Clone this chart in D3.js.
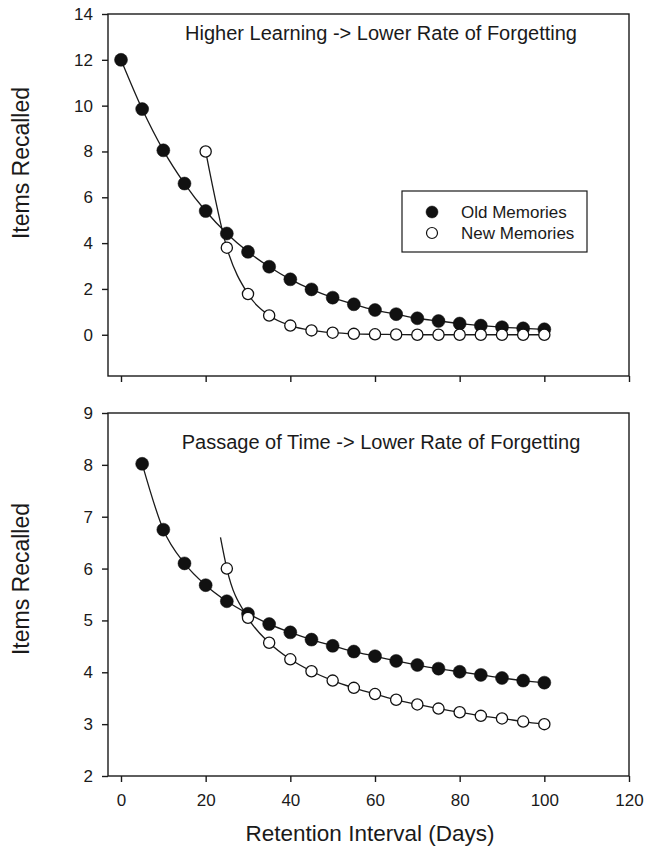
<html>
<head>
<title>Forgetting curves</title>
<script src="https://cdnjs.cloudflare.com/ajax/libs/d3/7.8.5/d3.min.js"></script>
<style>
  body { margin: 0; background: #fff; }
  svg text { font-family: "Liberation Sans", Arial, sans-serif; fill: #1a1a1a; }
  .axis path, .axis line { stroke: #1a1a1a; stroke-width: 1.4; }
  .axis text { font-size: 17px; }
</style>
</head>
<body>
<svg id="chart" width="646" height="847"></svg>
<script>
// retention interval (days)
var daysOld = [0, 5, 10, 15, 20, 25, 30, 35, 40, 45, 50, 55, 60, 65, 70, 75, 80, 85, 90, 95, 100];
var daysNew = [20, 25, 30, 35, 40, 45, 50, 55, 60, 65, 70, 75, 80, 85, 90, 95, 100];
var daysOld2 = [5, 10, 15, 20, 25, 30, 35, 40, 45, 50, 55, 60, 65, 70, 75, 80, 85, 90, 95, 100];
var daysNew2 = [25, 30, 35, 40, 45, 50, 55, 60, 65, 70, 75, 80, 85, 90, 95, 100];

// top panel: higher learning
var oldTop = [12, 9.85, 8.05, 6.6, 5.4, 4.42, 3.62, 2.97, 2.42, 1.98, 1.62, 1.33, 1.08, 0.9, 0.72, 0.6, 0.49, 0.4, 0.33, 0.28, 0.24];
var newTop = [8, 3.8, 1.78, 0.84, 0.4, 0.19, 0.09, 0.04, 0.02, 0.01, 0, 0, 0, 0, 0, 0, 0];

// bottom panel: passage of time
var oldBottom = [8.02, 6.75, 6.1, 5.68, 5.37, 5.13, 4.93, 4.77, 4.63, 4.51, 4.4, 4.31, 4.22, 4.14, 4.07, 4.01, 3.95, 3.89, 3.84, 3.8];
var newBottom = [6.0, 5.05, 4.57, 4.25, 4.02, 3.84, 3.7, 3.58, 3.47, 3.38, 3.3, 3.23, 3.16, 3.11, 3.05, 3.0];
var newBottomFitStart = [23.5, 6.6]; // fitted curve starts a bit left of first point

var xTicks = [0, 20, 40, 60, 80, 100, 120];
var yTicksTop = [0, 2, 4, 6, 8, 10, 12, 14];
var yTicksBottom = [2, 3, 4, 5, 6, 7, 8, 9];

var svg = d3.select("#chart");
svg.append("rect").attr("width", 646).attr("height", 847).attr("fill", "#fff");

var left = 108, right = 629;
var x = d3.scaleLinear().domain([-3.07, 120]).range([left, right]);

function zip(xs, ys) { return xs.map(function(d, i) { return [d, ys[i]]; }); }

function panel(top, bottom, yDomain, yTicks, series, title, titleY, yTitleY, showXLabels) {
  var y = d3.scaleLinear().domain(yDomain).range([bottom, top]);
  var g = svg.append("g");

  // frame
  g.append("rect").attr("x", left).attr("y", top)
    .attr("width", right - left).attr("height", bottom - top)
    .attr("fill", "none").attr("stroke", "#1a1a1a").attr("stroke-width", 1.4);

  var yAxis = d3.axisLeft(y).tickValues(yTicks).tickSize(6).tickPadding(9).tickFormat(d3.format("d"));
  g.append("g").attr("class", "axis").attr("transform", "translate(" + left + ",0)").call(yAxis)
    .select(".domain").remove();

  var xAxis = d3.axisBottom(x).tickValues(xTicks).tickSize(6).tickPadding(12)
    .tickFormat(showXLabels ? d3.format("d") : "");
  g.append("g").attr("class", "axis").attr("transform", "translate(0," + bottom + ")").call(xAxis)
    .select(".domain").remove();

  var line = d3.line().x(function(d) { return x(d[0]); }).y(function(d) { return y(d[1]); })
    .curve(d3.curveMonotoneX);

  series.forEach(function(s) {
    g.append("path").datum(s.fit).attr("d", line)
      .attr("fill", "none").attr("stroke", "#1a1a1a").attr("stroke-width", 1.3);
  });
  series.forEach(function(s) {
    g.selectAll(null).data(s.pts).enter().append("circle")
      .attr("cx", function(d) { return x(d[0]); })
      .attr("cy", function(d) { return y(d[1]); })
      .attr("r", s.filled ? 6.5 : 5.6)
      .attr("fill", s.filled ? "#111" : "#fff")
      .attr("stroke", "#111").attr("stroke-width", s.filled ? 0.5 : 1.3);
  });

  g.append("text").attr("x", 381).attr("y", titleY)
    .attr("text-anchor", "middle").attr("dominant-baseline", "central")
    .style("font-size", "20px").text(title);

  g.append("text").attr("transform", "translate(21," + yTitleY + ") rotate(-90)")
    .attr("text-anchor", "middle").attr("dominant-baseline", "central")
    .style("font-size", "23px").text("Items Recalled");
  return { g: g, y: y };
}

var oldTopPts = zip(daysOld, oldTop), newTopPts = zip(daysNew, newTop);
var p1 = panel(14, 376, [-1.8, 14], yTicksTop, [
  { pts: oldTopPts, fit: oldTopPts, filled: true },
  { pts: newTopPts, fit: newTopPts, filled: false }
], "Higher Learning -> Lower Rate of Forgetting", 33, 163, false);

var oldBotPts = zip(daysOld2, oldBottom), newBotPts = zip(daysNew2, newBottom);
var p2 = panel(413, 776, [2, 9], yTicksBottom, [
  { pts: oldBotPts, fit: oldBotPts, filled: true },
  { pts: newBotPts, fit: [newBottomFitStart].concat(newBotPts), filled: false }
], "Passage of Time -> Lower Rate of Forgetting", 442, 579, true);

// legend in top panel
var leg = p1.g.append("g");
leg.append("rect").attr("x", 402).attr("y", 191).attr("width", 185).attr("height", 61)
  .attr("fill", "#fff").attr("stroke", "#1a1a1a").attr("stroke-width", 1.2);
[{ name: "Old Memories", filled: true }, { name: "New Memories", filled: false }].forEach(function(d, i) {
  leg.append("circle").attr("cx", 432).attr("cy", 212 + i * 21).attr("r", d.filled ? 6 : 5.5)
    .attr("fill", d.filled ? "#111" : "#fff").attr("stroke", "#111").attr("stroke-width", d.filled ? 0.5 : 1.2);
  leg.append("text").attr("x", 461).attr("y", 212 + i * 21).attr("dominant-baseline", "central")
    .style("font-size", "17px").text(d.name);
});

svg.append("text").attr("x", 370).attr("y", 833)
  .attr("text-anchor", "middle").attr("dominant-baseline", "central")
  .style("font-size", "22.5px").text("Retention Interval (Days)");
</script>
</body>
</html>
